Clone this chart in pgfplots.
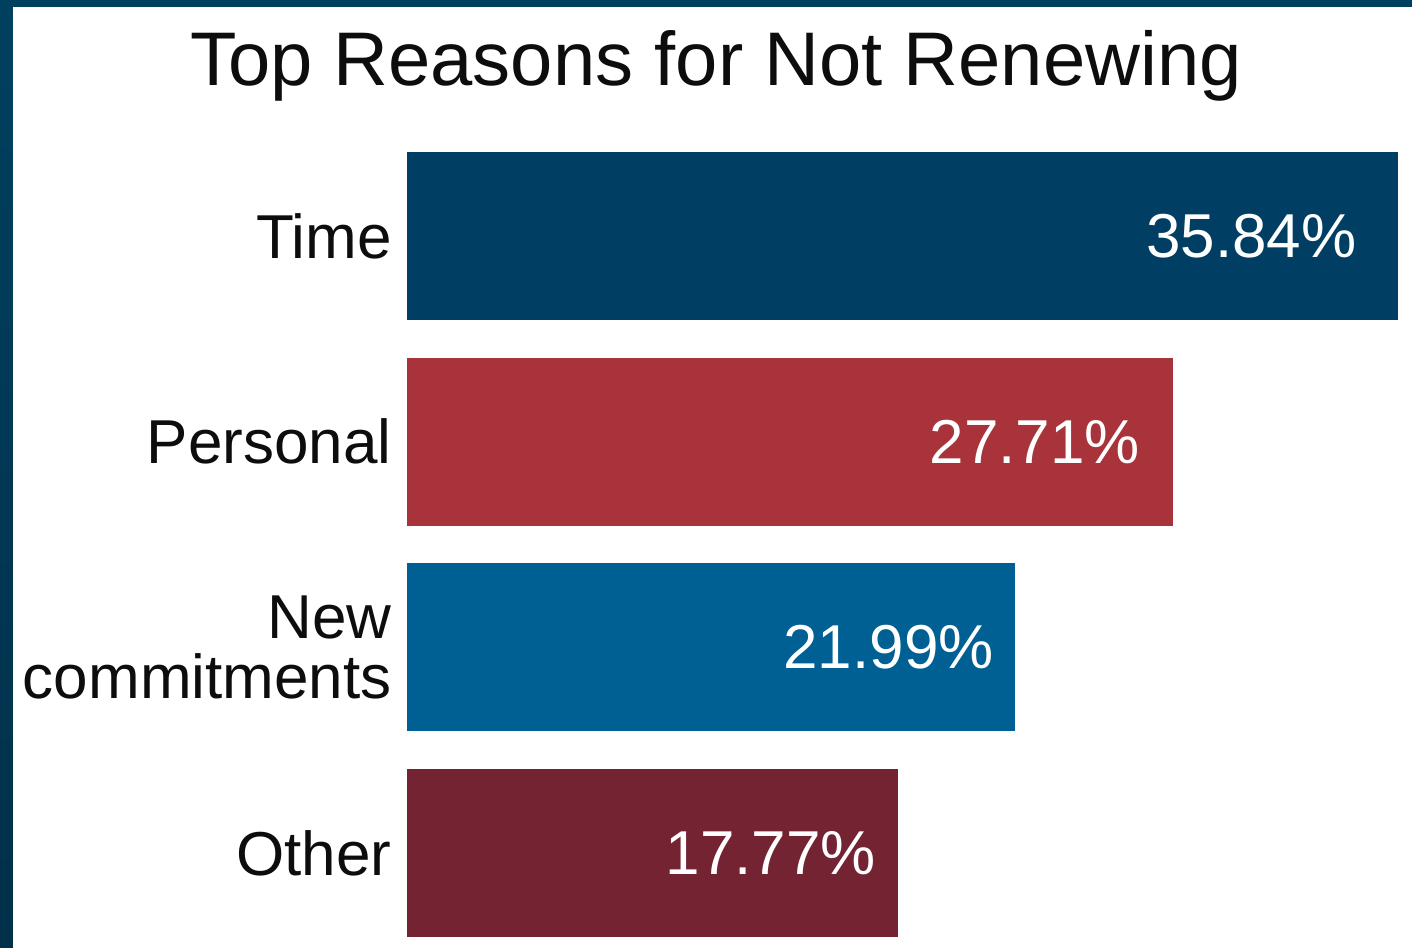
\documentclass[border=0pt]{standalone}
\usepackage{pgfplots}
\pgfplotsset{compat=1.18}
\usepackage{fontspec}
\setmainfont{Liberation Sans}
\definecolor{frame}{HTML}{00405F}
\definecolor{framedark}{HTML}{00304A}
\definecolor{ctime}{HTML}{003F63}
\definecolor{cpers}{HTML}{A8333A}
\definecolor{cnew}{HTML}{005F93}
\definecolor{cother}{HTML}{732332}
\begin{document}
\begin{tikzpicture}
  % background and frame (1px = 0.5pt)
  \fill[white] (-203.5pt,-5pt) rectangle (502.5pt,468.5pt);
  \shade[top color=frame,bottom color=framedark] (-203.5pt,-5pt) rectangle (-197pt,468.5pt);
  \fill[frame] (-203.5pt,465pt) rectangle (502.5pt,468.5pt);
  \node[anchor=base,font=\fontsize{38pt}{40pt}\selectfont,text=black!95] at (154.5pt,425.5pt) {Top Reasons for Not Renewing};
  \begin{axis}[
    at={(0,0)}, anchor=south west,
    scale only axis, width=495.5pt, height=392.5pt,
    xmin=0, xmax=35.84,
    ymin=-0.4085, ymax=3.4085, y dir=reverse,
    xbar, bar shift=0pt, bar width=84pt,
    xtick=\empty,
    ytick={0,1,2,3},
    yticklabels={Time,Personal,{New\\commitments},Other},
    axis line style={draw=none}, major tick style={draw=none},
    yticklabel style={font=\fontsize{31pt}{30pt}\selectfont, align=right, anchor=east, inner sep=0pt, xshift=-3.25pt, text=black!95},
    /pgf/number format/assume math mode=true,
    nodes near coords={\pgfmathprintnumber[fixed,precision=2,fixed zerofill]{\pgfplotspointmeta}\%},
    nodes near coords style={font=\fontsize{31pt}{31pt}\selectfont, text=white, anchor=east, inner sep=0pt},
    clip=false,
  ]
    \addplot[draw=none, fill=ctime, nodes near coords style={xshift=-20.5pt}] coordinates {(35.84,0)};
    \addplot[draw=none, fill=cpers, nodes near coords style={xshift=-16.5pt}] coordinates {(27.71,1)};
    \addplot[draw=none, fill=cnew, nodes near coords style={xshift=-10.5pt}] coordinates {(21.99,2)};
    \addplot[draw=none, fill=cother, nodes near coords style={xshift=-11pt}] coordinates {(17.77,3)};
  \end{axis}
  \pgfresetboundingbox
  \path[use as bounding box] (-203.5pt,-5pt) rectangle (502.5pt,468.5pt);
\end{tikzpicture}
\end{document}
